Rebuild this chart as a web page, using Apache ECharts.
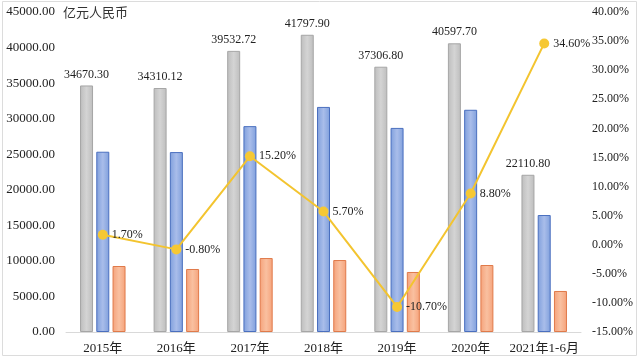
<!DOCTYPE html>
<html>
<head>
<meta charset="utf-8">
<script src="https://cdn.jsdelivr.net/npm/echarts@6/dist/echarts.min.js"></script>
<style>html,body{margin:0;padding:0;background:#fff}#c{width:640px;height:360px}</style>
</head>
<body>
<div id="c"></div>
<script>
var categories = ['2015年','2016年','2017年','2018年','2019年','2020年','2021年1-6月'];
var grayValues = [34670.30, 34310.12, 39532.72, 41797.90, 37306.80, 40597.70, 22110.80];
var blueValues = [25350, 25300, 28950, 31650, 28700, 31250, 16450];
var orangeValues = [9280, 8860, 10400, 10120, 8440, 9420, 5770];
var growthValues = [1.70, -0.80, 15.20, 5.70, -10.70, 8.80, 34.60];
var leftTicks = {min: 0, max: 45000, interval: 5000};
var rightTicks = {min: -15, max: 40, interval: 5};
var unitLabel = '亿元人民币';

var serif = '"Liberation Serif", "Noto Sans CJK SC", serif';
function hgrad(edge, mid) {
  return new echarts.graphic.LinearGradient(0, 0, 1, 0, [
    {offset: 0, color: edge}, {offset: 0.5, color: mid}, {offset: 1, color: edge}
  ]);
}
var chart = echarts.init(document.getElementById('c'), null, {renderer: 'canvas'});
chart.setOption({
  animation: false,
  backgroundColor: '#fff',
  graphic: [
    {type: 'rect', shape: {x: 2.5, y: 1.5, width: 634, height: 354}, style: {fill: 'none', stroke: '#dcdcdc', lineWidth: 1}},
    {type: 'text', left: 63, top: 6, style: {text: unitLabel, font: '13px "Noto Sans CJK SC", sans-serif', fill: '#333'}}
  ],
  grid: {left: 66, right: 59, top: 12, bottom: 28},
  xAxis: {
    type: 'category', data: categories,
    axisLine: {show: true, lineStyle: {color: '#d9d9d9', width: 1}},
    axisTick: {show: false},
    axisLabel: {interval: 0, color: '#222', fontFamily: serif, fontSize: 13, margin: 10}
  },
  yAxis: [
    {type: 'value', min: leftTicks.min, max: leftTicks.max, interval: leftTicks.interval,
     splitLine: {show: false}, axisLine: {show: false}, axisTick: {show: false},
     axisLabel: {color: '#222', fontFamily: serif, fontSize: 13, margin: 11,
       formatter: function (v) { return v.toFixed(2); }}},
    {type: 'value', min: rightTicks.min, max: rightTicks.max, interval: rightTicks.interval,
     splitLine: {show: false}, axisLine: {show: false}, axisTick: {show: false},
     axisLabel: {color: '#222', fontFamily: serif, fontSize: 12, margin: 11,
       formatter: function (v) { return v.toFixed(2) + '%'; }}}
  ],
  series: [
    {type: 'bar', data: grayValues, barWidth: 13, barGap: '25%',
     itemStyle: {color: hgrad('#bdbdbd', '#d4d4d4'), borderColor: '#a6a6a6', borderWidth: 1},
     label: {show: true, position: 'top', distance: 5, color: '#222', fontFamily: serif, fontSize: 12,
       formatter: function (p) { return p.value.toFixed(2); }}},
    {type: 'bar', data: blueValues, barWidth: 13,
     itemStyle: {color: hgrad('#7f9fdc', '#a9bdea'), borderColor: '#4a6fbf', borderWidth: 1}},
    {type: 'bar', data: orangeValues, barWidth: 13,
     itemStyle: {color: hgrad('#f5a27a', '#f9c0a0'), borderColor: '#e07a4a', borderWidth: 1}},
    {type: 'line', yAxisIndex: 1, data: growthValues, symbol: 'circle', symbolSize: 10,
     itemStyle: {color: '#f6c834'}, lineStyle: {color: '#f3c42f', width: 2},
     label: {show: true, position: 'right', distance: 4, color: '#222', fontFamily: serif, fontSize: 12,
       formatter: function (p) { return p.value.toFixed(2) + '%'; }}}
  ]
});
</script>
</body>
</html>
